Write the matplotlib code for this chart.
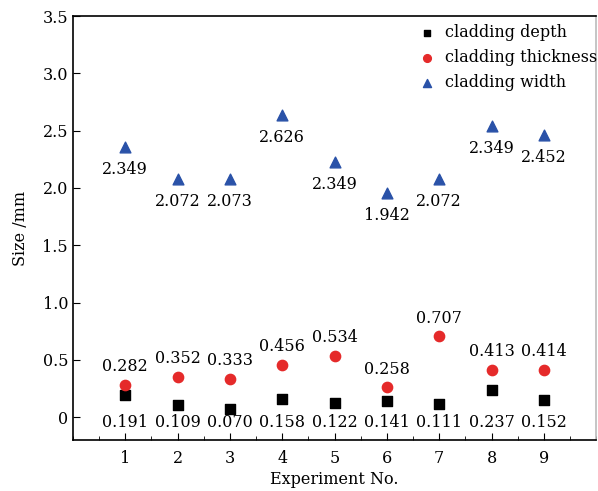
import numpy as np
import matplotlib
matplotlib.use("Agg")
import matplotlib.pyplot as plt
from matplotlib.ticker import MultipleLocator, FuncFormatter

experiments = [1, 2, 3, 4, 5, 6, 7, 8, 9]
depth = [0.191, 0.109, 0.070, 0.158, 0.122, 0.141, 0.111, 0.237, 0.152]
thickness = [0.282, 0.352, 0.333, 0.456, 0.534, 0.258, 0.707, 0.413, 0.414]
# triangle heights as drawn in the figure (labels differ from the plotted heights)
width = [2.356, 2.077, 2.077, 2.635, 2.225, 1.955, 2.077, 2.54, 2.46]
width_labels = ["2.349", "2.072", "2.073", "2.626", "2.349", "1.942", "2.072", "2.349", "2.452"]

plt.rcParams["font.family"] = "DejaVu Serif"
plt.rcParams["font.size"] = 11.5


def main():
    fig = plt.figure(figsize=(5.98, 4.91), dpi=100)
    ax = fig.add_axes([0.122, 0.104, 0.875, 0.863])

    ax.scatter(experiments, depth, marker="s", s=45, color="black", label="cladding depth", zorder=3)
    ax.scatter(experiments, thickness, marker="o", s=55, color="#e52a2a", label="cladding thickness", zorder=3)
    ax.scatter(experiments, width, marker="^", s=60, color="#2a52a8", label="cladding width", zorder=3)

    for x, d in zip(experiments, depth):
        ax.annotate(f"{d:.3f}", (x, -0.045), ha="center", va="center")
    for x, t in zip(experiments, thickness):
        ax.annotate(f"{t:.3f}", (x, t), xytext=(0, 13), textcoords="offset points",
                    ha="center", va="center")
    for x, w, lab in zip(experiments, width, width_labels):
        ax.annotate(lab, (x, w), xytext=(0, -16), textcoords="offset points",
                    ha="center", va="center")

    ax.set_xlim(0, 10)
    ax.set_ylim(-0.2, 3.5)
    ax.set_xticks(experiments)
    ax.xaxis.set_minor_locator(MultipleLocator(0.5))
    ax.yaxis.set_major_locator(MultipleLocator(0.5))
    ax.yaxis.set_major_formatter(FuncFormatter(lambda v, p: "0" if abs(v) < 1e-9 else f"{v:.1f}"))
    ax.tick_params(which="both", direction="in", top=False, right=False)
    ax.tick_params(which="major", length=5)
    ax.tick_params(axis="x", pad=7)
    ax.tick_params(which="minor", length=3)
    for s in ax.spines.values():
        s.set_linewidth(1.2)
    ax.spines["right"].set_color("#bbbbbb")

    ax.set_xlabel("Experiment No.", labelpad=3)
    ax.set_ylabel("Size /mm", labelpad=10)

    ax.legend(loc="upper right", bbox_to_anchor=(1.012, 0.995), frameon=False,
              handletextpad=0.1, borderaxespad=0.0, labelspacing=0.5,
              markerscale=0.75, borderpad=0.35)

    fig.savefig("out.png", dpi=100)


if __name__ == "__main__":
    main()
